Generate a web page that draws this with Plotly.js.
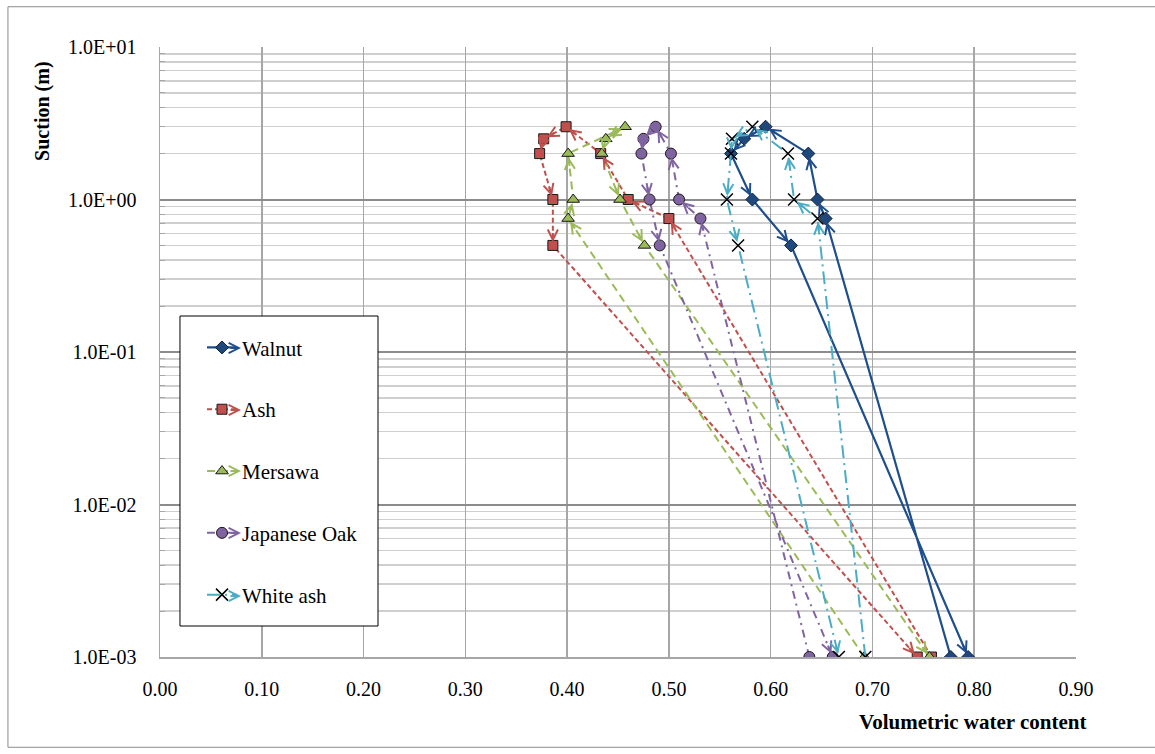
<!DOCTYPE html>
<html><head><meta charset="utf-8">
<script src="https://cdn.plot.ly/plotly-3.0.1.min.js"></script>
<style>html,body{margin:0;padding:0;background:#fff}#chart{width:1155px;height:754px}</style>
</head><body><div id="chart"></div>
<script>
// Suction (m) sequence shared by all series
const suction = [0.001, 0.75, 1, 2, 3, 2.5, 2, 1, 0.5, 0.001];
// Volumetric water content per species
const walnut      = [0.777, 0.654, 0.646, 0.637, 0.595, 0.574, 0.561, 0.582, 0.620, 0.794];
const ash         = [0.758, 0.500, 0.460, 0.433, 0.399, 0.377, 0.373, 0.386, 0.386, 0.744];
const mersawa     = [0.692, 0.401, 0.406, 0.401, 0.457, 0.438, 0.434, 0.452, 0.476, 0.756];
const japaneseOak = [0.638, 0.531, 0.510, 0.502, 0.487, 0.475, 0.473, 0.481, 0.491, 0.661];
const whiteAsh    = [0.693, 0.646, 0.623, 0.617, 0.582, 0.562, 0.561, 0.557, 0.568, 0.667];

const seriesNames = ['Walnut', 'Ash', 'Mersawa', 'Japanese Oak', 'White ash'];
const xTickVals = [0, 0.1, 0.2, 0.3, 0.4, 0.5, 0.6, 0.7, 0.8, 0.9];
const yTickVals = [0.001, 0.01, 0.1, 1, 10];
const yTickText = ['1.0E-03', '1.0E-02', '1.0E-01', '1.0E+00', '1.0E+01'];

const seriesData = [walnut, ash, mersawa, japaneseOak, whiteAsh];
const styles = [
  {color: '#1F4E8C', dash: 'solid', width: 2.2, symbol: 'diamond', size: 10, mfill: '#1F497D', mline: '#0d1f3a', mlw: 1},
  {color: '#C0504D', dash: '5px,3px', width: 2, symbol: 'square', size: 10, mfill: '#C0504D', mline: '#1a1a1a', mlw: 1},
  {color: '#9BBB59', dash: '8px,5px', width: 2, symbol: 'triangle-up', size: 11, mfill: '#9BBB59', mline: '#1a1a1a', mlw: 1},
  {color: '#8064A2', dash: '8px,5px,2px,5px', width: 2, symbol: 'circle', size: 11, mfill: '#8064A2', mline: '#1a1a1a', mlw: 1},
  {color: '#4BACC6', dash: '13px,5px,2px,5px', width: 2, symbol: 'x-thin', size: 12, mfill: '#000000', mline: '#000000', mlw: 1.5}
];

const M = {l: 160, r: 79, t: 47, b: 97};
const W = 1155, H = 754;
const plotW = W - M.l - M.r, plotH = H - M.t - M.b;
const xRange = [0, 0.9], yRange = [-3, 1];
const pxPerX = plotW / (xRange[1] - xRange[0]);
const pxPerDec = plotH / (yRange[1] - yRange[0]);

const traces = seriesData.map((xs, i) => {
  const s = styles[i];
  return {
    type: 'scatter', mode: 'lines+markers', name: seriesNames[i],
    x: xs, y: suction, legendgroup: 'g' + i,
    line: {color: s.color, width: s.width, dash: s.dash},
    marker: {symbol: s.symbol, size: s.size, color: s.mfill, line: {color: s.mline, width: s.mlw}}
  };
});

const ARROW = {arrowhead: 5, arrowsize: 1.0, arrowwidth: 2};
// arrowheads at the end of each segment (direction from the data)
const annotations = [];
seriesData.forEach((xs, i) => {
  for (let k = 1; k < xs.length; k++) {
    const dx = (xs[k] - xs[k - 1]) * pxPerX;
    const dy = -(Math.log10(suction[k]) - Math.log10(suction[k - 1])) * pxPerDec;
    const len = Math.hypot(dx, dy);
    if (len < 1) continue;
    const L = Math.min(14, len * 0.9);
    annotations.push(Object.assign({
      x: xs[k], y: Math.log10(suction[k]), xref: 'x', yref: 'y',
      axref: 'pixel', ayref: 'pixel', ax: -dx / len * L, ay: -dy / len * L,
      text: '', showarrow: true, arrowcolor: styles[i].color, standoff: 3.5
    }, ARROW));
  }
});

// arrowheads on the legend samples
const legendLeft = (202 - M.l) / plotW;
const legendTop = 0.5405;
const legendRowY = [348, 410, 471, 533, 596];
legendRowY.forEach((py, i) => {
  annotations.push(Object.assign({
    x: (241 - M.l) / plotW, y: (H - M.b - py) / plotH, xref: 'paper', yref: 'paper',
    axref: 'pixel', ayref: 'pixel', ax: -12, ay: 0, text: '', showarrow: true,
    arrowcolor: styles[i].color, standoff: 0
  }, ARROW));
});

annotations.push({
  text: '<b>Volumetric water content</b>', xref: 'paper', yref: 'paper',
  x: 1.013, y: -0.107, xanchor: 'right', yanchor: 'middle', showarrow: false,
  font: {family: 'Liberation Serif', size: 21, color: '#000'}
});
annotations.push({
  text: '<b>Suction (m)</b>', xref: 'paper', yref: 'paper', textangle: -90,
  x: -0.129, y: 0.895, xanchor: 'center', yanchor: 'middle', showarrow: false,
  font: {family: 'Liberation Serif', size: 20, color: '#000'}
});

const minorVals = [];
for (let e = -3; e < 1; e++) for (let m = 2; m <= 9; m++) minorVals.push(m * Math.pow(10, e));

const font = {family: 'Liberation Serif', size: 20, color: '#000'};
const legendFont = {family: 'Liberation Serif', size: 21, color: '#000'};
const layout = {
  width: W, height: H, margin: M,
  paper_bgcolor: '#fff', plot_bgcolor: '#fff',
  font: font,
  showlegend: true,
  legend: {x: legendLeft, y: legendTop, xanchor: 'left', yanchor: 'top', bgcolor: 'rgba(0,0,0,0)',
           borderwidth: 0, font: legendFont, tracegroupgap: 31.5},
  xaxis: {range: xRange, tickvals: xTickVals, tickformat: '.2f', showgrid: true,
          gridcolor: '#A6A6A6', gridwidth: 1.5, zeroline: false, showline: true,
          linecolor: '#A6A6A6', linewidth: 1.5, ticks: '', ticklabelstandoff: 13, tickfont: font},
  yaxis: {type: 'log', range: yRange, tickvals: yTickVals, ticktext: yTickText,
          showgrid: true, gridcolor: '#8C8C8C', gridwidth: 2, zeroline: false,
          showline: true, linecolor: '#A6A6A6', linewidth: 1.5, ticks: '',
          ticklabelstandoff: 18, tickfont: font,
          minor: {tickmode: 'array', tickvals: minorVals, showgrid: true,
                  gridcolor: '#CFCFCF', gridwidth: 1.5, ticks: 'inside', ticklen: 5, tickcolor: '#A6A6A6'}},
  shapes: [
    {type: 'rect', xref: 'paper', yref: 'paper', x0: 0.0218, x1: 0.238, y0: 0.0508, y1: 0.559,
     line: {color: '#000', width: 1}, fillcolor: '#fff', layer: 'above'},
    {type: 'rect', xref: 'paper', yref: 'paper', x0: -0.166, x1: 1.1747, y0: -0.148, y1: 1.066,
     line: {color: '#8C8C8C', width: 1}, fillcolor: 'rgba(0,0,0,0)', layer: 'below'}
  ],
  annotations: annotations
};

Plotly.newPlot('chart', traces, layout, {displayModeBar: false, staticPlot: true});
</script>
</body></html>
